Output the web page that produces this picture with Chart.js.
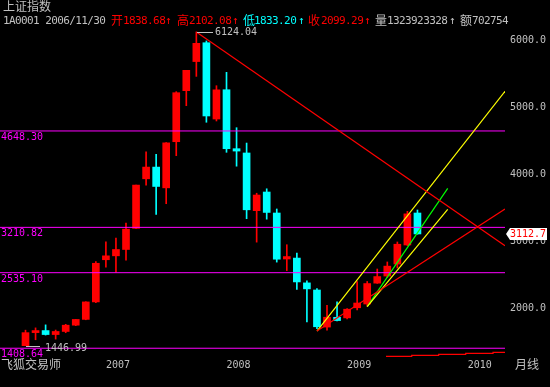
<!DOCTYPE html>
<html><head><meta charset="utf-8">
<script src="https://cdn.jsdelivr.net/npm/chart.js@4.4.1/dist/chart.umd.min.js"></script>
<style>
html,body{margin:0;padding:0;background:#000;overflow:hidden}
#wrap{position:relative;width:550px;height:387px;background:#000}
#c{position:absolute;left:0;top:0}
.t{position:absolute;white-space:nowrap;font-family:"DejaVu Sans Mono",monospace;font-size:11px;letter-spacing:-0.6px;line-height:12px}
.h{position:absolute;white-space:nowrap;font-family:"Noto Sans CJK SC",sans-serif;font-size:12px;line-height:12px}
</style></head><body>
<div id="wrap"><canvas id="c" width="550" height="387"></canvas><div id="ov"></div></div>
<script>
// ---- data (monthly candles, 上证指数) ----
const months = ['2006-05','2006-06','2006-07','2006-08','2006-09','2006-10','2006-11','2006-12',
 '2007-01','2007-02','2007-03','2007-04','2007-05','2007-06','2007-07','2007-08','2007-09','2007-10','2007-11','2007-12',
 '2008-01','2008-02','2008-03','2008-04','2008-05','2008-06','2008-07','2008-08','2008-09','2008-10','2008-11','2008-12',
 '2009-01','2009-02','2009-03','2009-04','2009-05','2009-06','2009-07','2009-08'];
const openP  = [1447.0,1641.3,1672.2,1612.7,1658.6,1752.4,1838.68,2099.29,2728.19,2786.34,2881.07,3196.0,3935.0,4109.65,3800.0,4488.0,5249.0,5683.0,5964.0,4826.0,5263.0,4384.0,4320.0,3460.0,3738.0,3425.0,2739.0,2753.0,2383.0,2277.0,1724.0,1870.0,1861.0,2012.0,2068.0,2379.0,2485.0,2664.0,2948.0,3425.0];
const highP  = [1678.0,1712.0,1757.0,1680.0,1765.0,1840.0,2102.08,2698.9,2994.28,3049.77,3274.0,3841.5,4335.96,4300.0,4475.0,5234.0,5552.3,6124.04,5990.0,5323.0,5522.78,4697.0,4468.0,3720.0,3786.0,3485.0,2952.0,2828.0,2415.0,2298.0,2050.0,2100.79,2000.0,2402.85,2404.0,2590.0,2695.0,2993.0,3450.0,3470.0];
const lowP   = [1446.99,1535.0,1605.0,1545.0,1640.0,1745.0,1833.2,2087.0,2617.02,2541.52,2723.0,3190.0,3840.0,3404.15,3563.54,4280.0,5025.0,5462.0,4778.0,4797.0,4330.0,4123.0,3340.0,2990.79,3333.0,2693.0,2566.0,2284.0,1802.33,1700.0,1678.0,1814.75,1844.0,1981.0,2037.0,2376.0,2461.0,2605.0,2940.0,3110.0];
const closeP = [1641.3,1672.2,1612.73,1658.64,1752.42,1837.99,2099.29,2675.47,2786.34,2881.07,3183.98,3841.27,4109.65,3820.7,4471.03,5218.83,5552.3,5954.77,4871.78,5261.56,4383.39,4348.54,3472.71,3693.11,3433.35,2736.1,2775.72,2397.37,2293.78,1728.79,1871.16,1820.81,1990.66,2082.85,2373.21,2477.57,2632.93,2959.36,3412.06,3112.7];

const levelValues = [4648.30, 3210.82, 2535.10, 1408.64];
const levelLabels = ['4648.30','3210.82','2535.10','1408.64'];

const yearTickIdx = [8, 20, 32, 44];
const yearTickLabels = ['2007','2008','2009','2010'];
const priceTicks = [2000, 3000, 4000, 5000, 6000];

// drawn trend lines (index, value)
const redDownLine   = [[17, 6124.04], [47.71, 2938]];
const redUpLine     = [[29, 1664.93], [47.71, 3485]];
const yellowUpLine  = [[29, 1664.93], [47.71, 5240]];
const yellowLowLine = [[34, 2030], [42.01, 3480]];
const greenLine     = [[34, 2030], [42.01, 3793]];
// red step line near the bottom
const stepX = [35.87, 38.43, 41.11, 43.80, 46.52, 47.71];
const stepY = [1288, 1303, 1318, 1333, 1348, 1348];

const lastPrice = 3112.7;
const hdrIndex = 6;
const hdrDate = '2006/11/30';
const hdrVolume = '1323923328';
const hdrAmount = '702754';

// ---- styles ----
const RED = '#ff0000', CYAN = '#00ffff', MAG = '#ff00ff', GRAY = '#c0c0c0';
const X_MIN = -2.537, X_MAX = 47.711, Y_MIN = 1263.1, Y_MAX = 6183.4;
const MONO = '"DejaVu Sans Mono", monospace';

const candleColors = closeP.map((c, i) => c >= openP[i] ? RED : CYAN);
const bodies = months.map((m, i) => ({x: i, y: [openP[i], closeP[i]]}));
const wicks  = months.map((m, i) => ({x: i, y: [lowP[i], highP[i]]}));

const toPts = arr => arr.map(p => ({x: p[0], y: p[1]}));
const lineDs = (pts, color, extra) => Object.assign({
  type: 'line', data: pts, borderColor: color, borderWidth: 1.2, pointRadius: 0,
  fill: false, tension: 0, order: 0
}, extra || {});

const datasets = [
  lineDs(toPts(redDownLine), RED),
  lineDs(toPts(redUpLine), RED),
  lineDs(toPts(yellowUpLine), '#ffff00'),
  lineDs(toPts(yellowLowLine), '#ffff00'),
  lineDs(toPts(greenLine), '#00ff00'),
  lineDs(stepX.map((x, i) => ({x, y: stepY[i]})), RED, {stepped: true}),
  ...levelValues.map(v => lineDs([{x: X_MIN, y: v}, {x: X_MAX, y: v}], MAG, {order: 1, borderWidth: 1})),
  {type: 'bar', data: bodies, backgroundColor: candleColors, borderWidth: 0,
   barThickness: 7, grouped: false, minBarLength: 1, order: 2},
  {type: 'bar', data: wicks, backgroundColor: candleColors, borderWidth: 0,
   barThickness: 1, grouped: false, order: 3}
];

const annot = {
  id: 'annot',
  afterDatasetsDraw(chart) {
    const {ctx, scales: {x, y}} = chart;
    ctx.save();
    ctx.font = '10px ' + MONO;
    ctx.textAlign = 'left';
    // level labels
    ctx.textBaseline = 'top';
    ctx.fillStyle = MAG;
    levelValues.forEach((v, i) => {
      ctx.fillText(levelLabels[i], 1, Math.round(y.getPixelForValue(v)) + 1);
    });
    // highest high / lowest low markers
    ctx.strokeStyle = GRAY; ctx.fillStyle = GRAY; ctx.lineWidth = 1;
    ctx.textBaseline = 'middle';
    const hi = Math.max(...highP), hiI = highP.indexOf(hi);
    const hx = Math.round(x.getPixelForValue(hiI)), hy = Math.round(y.getPixelForValue(hi));
    ctx.beginPath(); ctx.moveTo(hx + 1, hy + 0.5); ctx.lineTo(hx + 17, hy + 0.5); ctx.stroke();
    ctx.fillText(hi.toFixed(2), hx + 19, hy);
    const lo = Math.min(...lowP), loI = lowP.indexOf(lo);
    const lx = Math.round(x.getPixelForValue(loI)), ly = Math.round(y.getPixelForValue(lo));
    ctx.beginPath(); ctx.moveTo(lx + 1, ly + 0.5); ctx.lineTo(lx + 15, ly + 0.5); ctx.stroke();
    ctx.fillText(lo.toFixed(2), lx + 20, ly + 2.5);
    // last price tag
    const py = Math.round(y.getPixelForValue(lastPrice));
    ctx.fillStyle = '#ffffff';
    ctx.beginPath();
    ctx.moveTo(506, py); ctx.lineTo(510, py - 6); ctx.lineTo(547, py - 6);
    ctx.lineTo(547, py + 6); ctx.lineTo(510, py + 6); ctx.closePath(); ctx.fill();
    ctx.fillStyle = RED;
    ctx.fillText(lastPrice.toFixed(1), 510, py + 0.5);
    ctx.restore();
  }
};

new Chart(document.getElementById('c'), {
  type: 'bar',
  data: {datasets},
  options: {
    responsive: false, maintainAspectRatio: false, animation: false, devicePixelRatio: 1,
    layout: {padding: {top: 28, left: 0, right: 0, bottom: 0}},
    plugins: {legend: {display: false}, tooltip: {enabled: false}},
    scales: {
      x: {
        type: 'linear', min: X_MIN, max: X_MAX, offset: false,
        grid: {display: false, drawTicks: false}, border: {display: false},
        afterBuildTicks: s => { s.ticks = yearTickIdx.map(v => ({value: v})); },
        afterFit: s => { s.height = 29; },
        ticks: {
          autoSkip: false, maxRotation: 0, align: 'start', padding: 1,
          color: GRAY, font: {family: MONO, size: 10},
          callback: v => yearTickLabels[yearTickIdx.indexOf(v)]
        }
      },
      y: {
        type: 'linear', position: 'right', min: Y_MIN, max: Y_MAX,
        grid: {display: false, drawTicks: false}, border: {display: false},
        afterBuildTicks: s => { s.ticks = priceTicks.map(v => ({value: v})); },
        afterFit: s => { s.width = 45; },
        ticks: {
          autoSkip: false, padding: 5,
          color: GRAY, font: {family: MONO, size: 10},
          callback: v => v.toFixed(1)
        }
      }
    }
  },
  plugins: [annot]
});

// ---- header / footer text ----
const ov = document.getElementById('ov');
function addText(cls, x, y, color, text) {
  const d = document.createElement('div');
  d.className = cls; d.style.left = x + 'px'; d.style.top = y + 'px'; d.style.color = color;
  d.textContent = text; ov.appendChild(d);
}
const o = openP[hdrIndex].toFixed(2), h = highP[hdrIndex].toFixed(2),
      l = lowP[hdrIndex].toFixed(2), c = closeP[hdrIndex].toFixed(2);
addText('h', 3, -0.5, GRAY, '上证指数');
addText('t', 3, 15, GRAY, '1A0001 ' + hdrDate);
addText('h', 111, 13.5, RED, '开'); addText('t', 123, 15, RED, o); addText('t', 165, 15, RED, '↑');
addText('h', 177, 13.5, RED, '高'); addText('t', 189, 15, RED, h); addText('t', 232, 15, RED, '↑');
addText('h', 243, 13.5, CYAN, '低'); addText('t', 254, 15, CYAN, l); addText('t', 298, 15, CYAN, '↑');
addText('h', 308, 13.5, RED, '收'); addText('t', 321, 15, RED, c); addText('t', 364, 15, RED, '↑');
addText('h', 375, 13.5, GRAY, '量'); addText('t', 387, 15, GRAY, hdrVolume); addText('t', 449, 15, GRAY, '↑');
addText('h', 460, 13.5, GRAY, '额'); addText('t', 472, 15, GRAY, hdrAmount);
addText('h', 1, 357.5, GRAY, '飞狐交易师');
addText('h', 515, 357.5, GRAY, '月线');
</script>
</body></html>
